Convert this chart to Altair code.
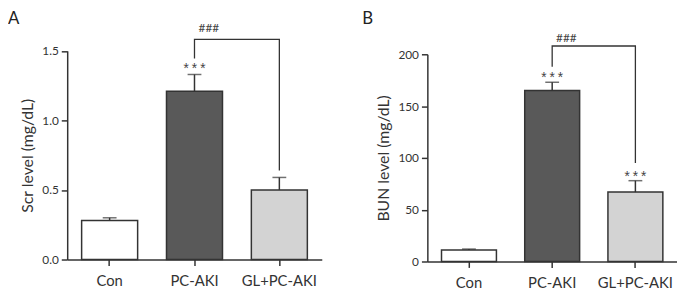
import altair as alt
import pandas as pd

groups = ["Con", "PC-AKI", "GL+PC-AKI"]
fills = ["#ffffff", "#595959", "#d3d3d3"]

scr_mean = [0.28, 1.21, 0.50]
scr_err = [0.02, 0.12, 0.09]
scr_bracket_y = [1.445, 1.583, 1.583, 0.64]
scr_stars = [("PC-AKI", 1.387)]
scr_hash_y = 1.663

bun_mean = [11, 165, 67]
bun_err = [1, 8, 11]
bun_bracket_y = [188, 208, 208, 95]
bun_stars = [("PC-AKI", 179.5), ("GL+PC-AKI", 84.5)]
bun_hash_y = 216

FONT = "Lato"
INK = "#333333"


def panel(letter, ytitle, means, errs, bracket_y, stars, hash_y,
          ydomain, yfmt, ytickvals, width, height, yrange, title_dx):
    df = pd.DataFrame({
        "group": groups,
        "mean": means,
        "top": [m + e for m, e in zip(means, errs)],
    })
    xenc = alt.X("group:N", sort=groups,
                 scale=alt.Scale(paddingInner=0.34, paddingOuter=0.17),
                 axis=alt.Axis(title=None, labelAngle=0, labelFontSize=15,
                               labelPadding=8, labelFont=FONT))
    yscale = alt.Scale(domain=ydomain, nice=False, zero=True, range=yrange)
    yaxis = alt.Axis(title=ytitle, values=ytickvals, format=yfmt,
                     labelFontSize=12, titleFontSize=16,
                     titleFont=FONT, labelFont=FONT, labelPadding=3,
                     titleFontWeight="normal", titlePadding=6)

    def Y(field):
        return alt.Y(field, scale=yscale, axis=yaxis)

    base = alt.Chart(df)
    bars = base.mark_bar(stroke=INK, strokeWidth=1.5).encode(
        x=xenc, y=Y("mean:Q"),
        fill=alt.Fill("group:N", scale=alt.Scale(domain=groups, range=fills),
                      legend=None),
    )
    err = base.mark_rule(color=INK, strokeWidth=1.5).encode(
        x=xenc, y=Y("mean:Q"), y2="top:Q",
    )
    cap = base.mark_tick(color=INK, thickness=1.5, size=14,
                         orient="horizontal").encode(x=xenc, y=Y("top:Q"))
    bdf = pd.DataFrame({
        "group": ["PC-AKI", "PC-AKI", "GL+PC-AKI", "GL+PC-AKI"],
        "mean": bracket_y,
        "o": [0, 1, 2, 3],
    })
    bracket = alt.Chart(bdf).mark_line(color=INK, strokeWidth=1.3).encode(
        x=xenc, y=Y("mean:Q"), order="o:Q",
    )
    sdf = pd.DataFrame({"group": [s[0] for s in stars],
                        "mean": [s[1] for s in stars],
                        "label": ["***"] * len(stars)})
    star_text = alt.Chart(sdf).mark_text(font="Liberation Mono", fontSize=14,
                                         color="#444", baseline="middle",
                                         dy=4).encode(
        x=xenc, y=Y("mean:Q"), text="label:N",
    )
    hdf = pd.DataFrame({"group": ["PC-AKI"], "mean": [hash_y],
                        "label": ["###"]})
    step = width / 3.0
    hash_text = alt.Chart(hdf).mark_text(font=FONT, fontSize=12, color="#444",
                                         baseline="middle").encode(
        x=xenc, xOffset=alt.value(step / 2), y=Y("mean:Q"), text="label:N",
    )
    return alt.layer(bars, err, cap, bracket, star_text, hash_text).properties(
        width=width, height=height,
        title=alt.TitleParams(letter, anchor="start", frame="group",
                              dx=title_dx, fontSize=17, fontWeight="normal",
                              font=FONT, color="#222", offset=-6),
    )


a = panel("A", "Scr level (mg/dL)", scr_mean, scr_err, scr_bracket_y,
          scr_stars, scr_hash_y, [0, 1.5], ".1f", [0, 0.5, 1.0, 1.5],
          258, 241, [241, 29.5], -60)
b = panel("B", "BUN level (mg/dL)", bun_mean, bun_err, bun_bracket_y,
          bun_stars, bun_hash_y, [0, 200], "d", [0, 50, 100, 150, 200],
          253, 243, [243, 33], -66)

chart = alt.hconcat(a, b, spacing=41).properties(
    padding={"left": 0, "top": 0, "right": 0, "bottom": 0}
).configure_view(stroke=None).configure_axis(
    grid=False, domainColor=INK, tickColor=INK, domainWidth=1.5,
    tickWidth=1.5, tickSize=6, labelColor=INK, titleColor=INK,
).configure_title(color="#222")

chart.save("out.html", embed_options={"renderer": "svg", "actions": False})
